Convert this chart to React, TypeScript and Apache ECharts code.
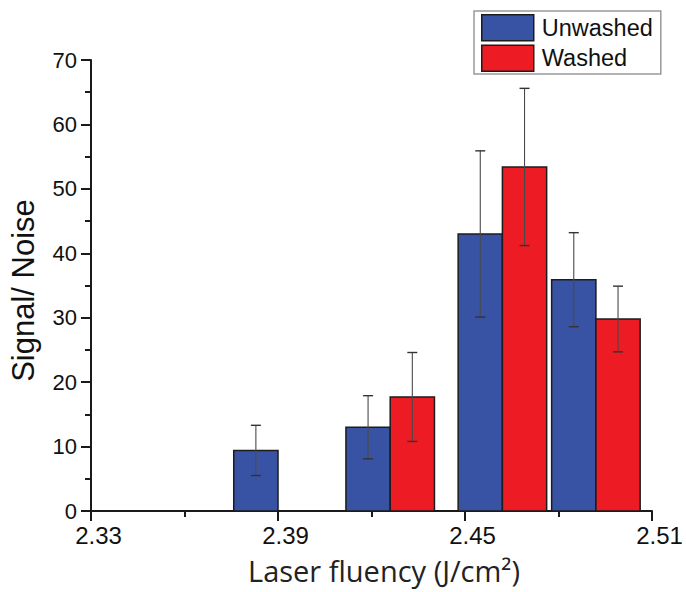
import React, { useEffect, useRef } from "react";
import * as echarts from "echarts";

const groupCenters = [2.39, 2.426, 2.462, 2.492];
const unwashed = [9.4, 13.0, 43.0, 35.9];
const unwashedErr = [3.9, 4.9, 12.9, 7.3];
const washed: (number | null)[] = [null, 17.7, 53.4, 29.8];
const washedErr: (number | null)[] = [null, 6.9, 12.2, 5.1];
const xTicks = [2.33, 2.39, 2.45, 2.51];
const seriesNames = ["Unwashed", "Washed"];

const BLUE = "#3953a4";
const RED = "#ed1c24";
const BAR_W = 0.0142;
const FONT = "Arial, 'Liberation Sans', sans-serif";

export default function App() {
  const ref = useRef<HTMLDivElement>(null);
  useEffect(() => {
    if (!ref.current) return;
    const chart = echarts.init(ref.current, undefined, { renderer: "svg" });

    const build = (vals: (number | null)[], errs: (number | null)[]) =>
      groupCenters
        .map((c, i) => [c, vals[i], errs[i]])
        .filter((d) => d[1] != null) as number[][];

    const barSeries = (name: string, data: number[][], color: string, left: boolean) => ({
      name,
      type: "custom",
      itemStyle: { color },
      data,
      z: 2,
      renderItem: (_p: any, api: any) => {
        const x = api.value(0);
        const y = api.value(1);
        const x0 = left ? x - BAR_W : x;
        const a = api.coord([x0, y]);
        const b = api.coord([x0 + BAR_W, 0]);
        return {
          type: "rect",
          shape: { x: a[0], y: a[1], width: b[0] - a[0], height: b[1] - a[1] },
          style: { fill: color, stroke: "#1c1c1c", lineWidth: 1.5 },
        };
      },
    });

    const errSeries = (data: number[][], left: boolean) => ({
      type: "custom",
      data,
      z: 5,
      silent: true,
      renderItem: (_p: any, api: any) => {
        const x = api.value(0);
        const y = api.value(1);
        const e = api.value(2);
        const xc = left ? x - BAR_W / 2 : x + BAR_W / 2;
        const top = api.coord([xc, y + e]);
        const bot = api.coord([xc, y - e]);
        const cw = 5;
        return {
          type: "group",
          children: [
            { type: "line", shape: { x1: top[0], y1: top[1], x2: bot[0], y2: bot[1] }, style: { stroke: "#4a4a4a", lineWidth: 1.1 } },
            { type: "line", shape: { x1: top[0] - cw, y1: top[1], x2: top[0] + cw, y2: top[1] }, style: { stroke: "#333", lineWidth: 1.4 } },
            { type: "line", shape: { x1: bot[0] - cw, y1: bot[1], x2: bot[0] + cw, y2: bot[1] }, style: { stroke: "#333", lineWidth: 1.4 } },
          ],
        };
      },
    });

    const uData = build(unwashed, unwashedErr);
    const wData = build(washed, washedErr);

    chart.setOption({
      animation: false,
      backgroundColor: "#fff",
      grid: { left: 88, top: 60, width: 564, height: 451, containLabel: false },
      legend: {
        orient: "vertical",
        left: 474,
        top: 11,
        padding: [3, 8, 2, 7],
        itemWidth: 52,
        itemHeight: 26,
        itemGap: 3,
        borderColor: "#999",
        borderWidth: 1.5,
        selectedMode: false,
        textStyle: { fontSize: 23.5, color: "#111", fontFamily: FONT, padding: [0, 0, 0, 3] },
        data: [
          { name: seriesNames[0], icon: "rect", itemStyle: { color: BLUE, borderColor: "#1c1c1c", borderWidth: 1.5 } },
          { name: seriesNames[1], icon: "rect", itemStyle: { color: RED, borderColor: "#1c1c1c", borderWidth: 1.5 } },
        ],
      },
      xAxis: {
        type: "value",
        min: xTicks[0],
        max: xTicks[xTicks.length - 1],
        interval: 0.06,
        name: "Laser fluency (J/cm²)",
        nameLocation: "middle",
        nameGap: 45,
        nameTextStyle: { fontSize: 29, color: "#222", fontFamily: "'Open Sans', sans-serif", padding: [0, 0, 0, 25] },
        axisLine: { show: true, onZero: false, lineStyle: { color: "#1a1a1a", width: 2 } },
        axisTick: { show: true, length: 10, lineStyle: { color: "#1a1a1a", width: 2 } },
        minorTick: { show: true, splitNumber: 2, length: 6, lineStyle: { color: "#1a1a1a", width: 2 } },
        splitLine: { show: false },
        axisLabel: { fontSize: 24, color: "#111", fontFamily: FONT, margin: 12, padding: [0, 0, 0, 15], formatter: (v: number) => v.toFixed(2) },
      },
      yAxis: {
        type: "value",
        min: 0,
        max: 70,
        interval: 10,
        name: "Signal/ Noise",
        nameLocation: "middle",
        nameGap: 52,
        nameTextStyle: { fontSize: 31, color: "#111", fontFamily: FONT, padding: [0, 10, 0, 0] },
        axisLine: { show: true, lineStyle: { color: "#1a1a1a", width: 2 } },
        axisTick: { show: true, length: 10, lineStyle: { color: "#1a1a1a", width: 2 } },
        minorTick: { show: true, splitNumber: 2, length: 6, lineStyle: { color: "#1a1a1a", width: 2 } },
        splitLine: { show: false },
        axisLabel: { fontSize: 22, color: "#111", fontFamily: FONT, margin: 14 },
      },
      series: [
        barSeries(seriesNames[0], uData, BLUE, true),
        barSeries(seriesNames[1], wData, RED, false),
        errSeries(uData, true),
        errSeries(wData, false),
      ],
    });
    return () => chart.dispose();
  }, []);
  return (
    <div
      ref={ref}
      style={{ position: "fixed", left: 0, top: 0, width: 686, height: 592, background: "#fff" }}
    />
  );
}
